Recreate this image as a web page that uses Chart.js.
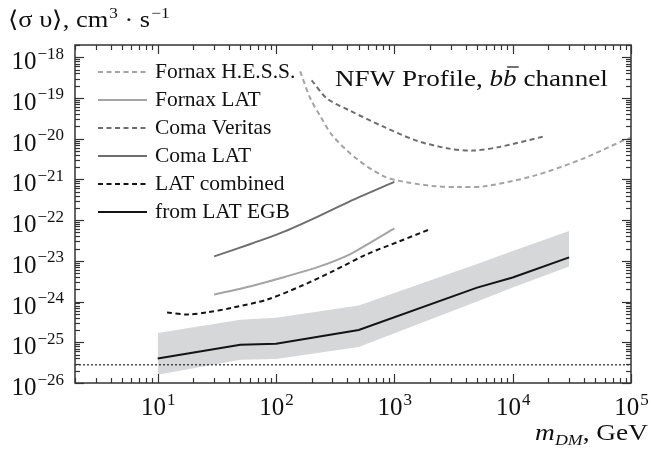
<!DOCTYPE html>
<html><head><meta charset="utf-8">
<script src="https://cdn.jsdelivr.net/npm/chart.js@4/dist/chart.umd.min.js"></script>
<style>html,body{margin:0;padding:0;background:#fff;}canvas{display:block;}</style>
</head><body>
<canvas id="c" width="650" height="452"></canvas>
<script>
// ---- data ----
const fornaxHessMass  = [160, 195, 235, 300, 480, 800, 1100, 2100, 3600, 6000, 15000, 39000, 85000, 100000];
const fornaxHessSigma = [4.5e-19, 9.7e-20, 3.7e-20, 1.19e-20, 3.2e-21, 1.22e-21, 9.2e-22, 6.9e-22, 6.5e-22, 6.9e-22, 1.22e-21, 3.2e-21, 8.9e-21, 1.06e-20];
const comaVeritasMass  = [200, 270, 420, 800, 1550, 2900, 4600, 7800, 18000];
const comaVeritasSigma = [2.7e-19, 9.7e-20, 4.9e-20, 2.0e-20, 8.9e-21, 5.7e-21, 5.1e-21, 6.3e-21, 1.12e-20];
const comaLatMass  = [30, 60, 114, 221, 420, 1000];
const comaLatSigma = [1.29e-23, 2.55e-23, 5.06e-23, 1.19e-22, 2.9e-22, 8.7e-22];
const fornaxLatMass  = [30, 60, 114, 221, 420, 1000];
const fornaxLatSigma = [1.49e-24, 2.35e-24, 3.9e-24, 6.9e-24, 1.45e-23, 6.3e-23];
const latCombinedMass  = [12, 18, 26, 43, 84, 160, 300, 585, 1100, 2000];
const latCombinedSigma = [5.4e-25, 4.8e-25, 5.4e-25, 7.1e-25, 1.12e-24, 2.35e-24, 5.5e-24, 1.45e-23, 3.0e-23, 6.0e-23];
const egbMass  = [10, 50, 100, 500, 5000, 10000, 30000];
const egbSigma = [4.0e-26, 8.7e-26, 9.2e-26, 2.0e-25, 2.2e-24, 3.9e-24, 1.22e-23];
const bandMass = [10, 50, 100, 500, 5000, 10000, 30000];
const bandLow  = [1.6e-26, 3.7e-26, 3.9e-26, 7.7e-26, 1.0e-24, 2.2e-24, 7.3e-24];
const bandHigh = [1.7e-25, 3.6e-25, 4.0e-25, 8.0e-25, 8.4e-24, 1.75e-23, 5.4e-23];
const thresholdMass  = [2, 100000];
const thresholdSigma = [2.8e-26, 2.8e-26];
const seriesNames = ['Fornax H.E.S.S.', 'Fornax LAT', 'Coma Veritas', 'Coma LAT', 'LAT combined', 'from LAT EGB'];
const xTickExps = [1, 2, 3, 4, 5];
const yTickExps = [-26, -25, -24, -23, -22, -21, -20, -19, -18];
const xMin = 2, xMax = 1e5, yMin = 1e-26, yMax = 2e-18;

const pts = (xs, ys) => xs.map((x, i) => ({x, y: ys[i]}));
const LIGHT = '#a4a4a4', MID = '#6e6e6e', DARK = '#141414';
const DASH = [5, 3.5];

const datasets = [
  {label: seriesNames[0], data: pts(fornaxHessMass, fornaxHessSigma), borderColor: LIGHT, borderDash: DASH, borderWidth: 2, tension: 0.3},
  {label: seriesNames[1], data: pts(fornaxLatMass, fornaxLatSigma), borderColor: LIGHT, borderWidth: 2, tension: 0.2},
  {label: seriesNames[2], data: pts(comaVeritasMass, comaVeritasSigma), borderColor: MID, borderDash: DASH, borderWidth: 2, tension: 0.3},
  {label: seriesNames[3], data: pts(comaLatMass, comaLatSigma), borderColor: MID, borderWidth: 2, tension: 0.2},
  {label: seriesNames[4], data: pts(latCombinedMass, latCombinedSigma), borderColor: DARK, borderDash: DASH, borderWidth: 2, tension: 0.3},
  {label: seriesNames[5], data: pts(egbMass, egbSigma), borderColor: DARK, borderWidth: 2},
  {label: 'threshold', data: pts(thresholdMass, thresholdSigma), borderColor: '#222', borderDash: [2, 2], borderWidth: 1.2},
  {label: 'band low', data: pts(bandMass, bandLow), borderColor: 'rgba(0,0,0,0)', borderWidth: 0, fill: false},
  {label: 'band high', data: pts(bandMass, bandHigh), borderColor: 'rgba(0,0,0,0)', borderWidth: 0, fill: '-1', backgroundColor: '#d6d7d9'}
];

const SERIF = '"Liberation Serif", "Times New Roman", serif';

// draw text with optional horizontal stretch; returns advance width
function txt(ctx, t, x, y, size, style, sx) {
  sx = sx || 1;
  ctx.font = (style || '') + ' ' + size + 'px ' + SERIF;
  const w = ctx.measureText(t).width * sx;
  ctx.save(); ctx.translate(x, y); ctx.scale(sx, 1);
  ctx.textAlign = 'left'; ctx.textBaseline = 'alphabetic';
  ctx.fillText(t, 0, 0); ctx.restore();
  return w;
}
function tw(ctx, t, size, style, sx) { ctx.font = (style || '') + ' ' + size + 'px ' + SERIF; return ctx.measureText(t).width * (sx || 1); }

function drawPow(ctx, exp, x, y, align, baseSize, expSize) {
  const base = '10', e = String(exp).replace('-', '\u2212');
  const wb = tw(ctx, base, baseSize), we = tw(ctx, e, expSize);
  const start = align === 'right' ? x - wb - we - 1 : x - (wb + we) / 2;
  txt(ctx, base, start, y, baseSize);
  txt(ctx, e, start + wb + 1, y - baseSize * 0.42, expSize);
}

const deco = {
  id: 'deco',
  afterDraw(chart) {
    const ctx = chart.ctx, a = chart.chartArea, xs = chart.scales.x, ys = chart.scales.y;
    ctx.save();
    ctx.strokeStyle = '#333'; ctx.lineWidth = 1.5;
    ctx.strokeRect(a.left, a.top, a.right - a.left, a.bottom - a.top);
    ctx.lineWidth = 1.2;
    const seg = (x1, y1, x2, y2) => { ctx.beginPath(); ctx.moveTo(x1, y1); ctx.lineTo(x2, y2); ctx.stroke(); };
    for (let e = 0; e <= 5; e++) for (let m = 1; m <= 9; m++) {
      const v = m * Math.pow(10, e);
      if (v < xMin * 0.999 || v > xMax * 1.001) continue;
      const px = Math.round(xs.getPixelForValue(v)) + 0.5, L = m === 1 ? 9 : 5;
      seg(px, a.bottom, px, a.bottom - L); seg(px, a.top, px, a.top + L);
    }
    for (let e = -26; e <= -18; e++) for (let m = 1; m <= 9; m++) {
      const v = m * Math.pow(10, e);
      if (v < yMin * 0.999 || v > yMax * 1.001) continue;
      const py = Math.round(ys.getPixelForValue(v)) + 0.5, L = m === 1 ? 9 : 5;
      seg(a.left, py, a.left + L, py); seg(a.right, py, a.right - L, py);
    }
    ctx.fillStyle = '#111';
    xTickExps.forEach(e => drawPow(ctx, e, xs.getPixelForValue(Math.pow(10, e)), 415, 'center', 25, 17));
    yTickExps.forEach(e => drawPow(ctx, e, 64, ys.getPixelForValue(Math.pow(10, e)) + 12, 'right', 25, 17));

    // y axis title
    let x = 8, y = 27;
    const SY = 1.15;
    x += txt(ctx, '\u27E8\u03C3 \u03C5\u27E9, cm', x, y, 23, '', SY);
    x += txt(ctx, '3', x + 1, y - 9, 15, '', SY) + 1;
    x += txt(ctx, ' \u00B7 s', x, y, 23, '', SY);
    x += txt(ctx, '\u22121', x + 1, y - 9, 15, '', SY);

    // x axis title (right aligned at 648)
    const SX = 1.19;
    const parts = [['m', 23, 'italic', 0], ['DM', 15, 'italic', 5], [', GeV', 23, '', 0]];
    let total = 0; parts.forEach(p => total += tw(ctx, p[0], p[1], p[2], SX));
    x = 648 - total; y = 440;
    parts.forEach(p => { x += txt(ctx, p[0], x, y + p[3], p[1], p[2], SX); });

    // in-plot title
    const ST = 1.18;
    x = 335; y = 86;
    x += txt(ctx, 'NFW Profile, ', x, y, 23, '', ST);
    x += txt(ctx, 'b', x, y, 23, 'italic', ST);
    const bx = x;
    const bw = txt(ctx, 'b', x, y, 23, 'italic', ST);
    ctx.strokeStyle = '#111'; ctx.lineWidth = 1.2; seg(bx + 4, y - 19, bx + bw + 2, y - 19);
    x += bw;
    txt(ctx, ' channel', x, y, 23, '', ST);

    // legend
    for (let i = 0; i < 6; i++) {
      const ds = chart.data.datasets[i], ry = 72 + i * 28;
      ctx.strokeStyle = ds.borderColor; ctx.lineWidth = ds.borderWidth; ctx.setLineDash(ds.borderDash || []);
      seg(98, ry, 147, ry);
      ctx.setLineDash([]);
      ctx.fillStyle = '#111';
      txt(ctx, ds.label, 155, ry + 6, 21.5, '', 1);
    }
    ctx.restore();
  }
};

new Chart(document.getElementById('c'), {
  type: 'line',
  data: {datasets},
  options: {
    responsive: false, animation: false, parsing: true,
    layout: {padding: {left: 75, top: 45, right: 19, bottom: 69}},
    elements: {point: {radius: 0}, line: {fill: false}},
    plugins: {legend: {display: false}, tooltip: {enabled: false}, filler: {propagate: false}},
    scales: {
      x: {type: 'logarithmic', min: xMin, max: xMax, display: false},
      y: {type: 'logarithmic', min: yMin, max: yMax, display: false}
    }
  },
  plugins: [deco]
});
</script>
</body></html>
